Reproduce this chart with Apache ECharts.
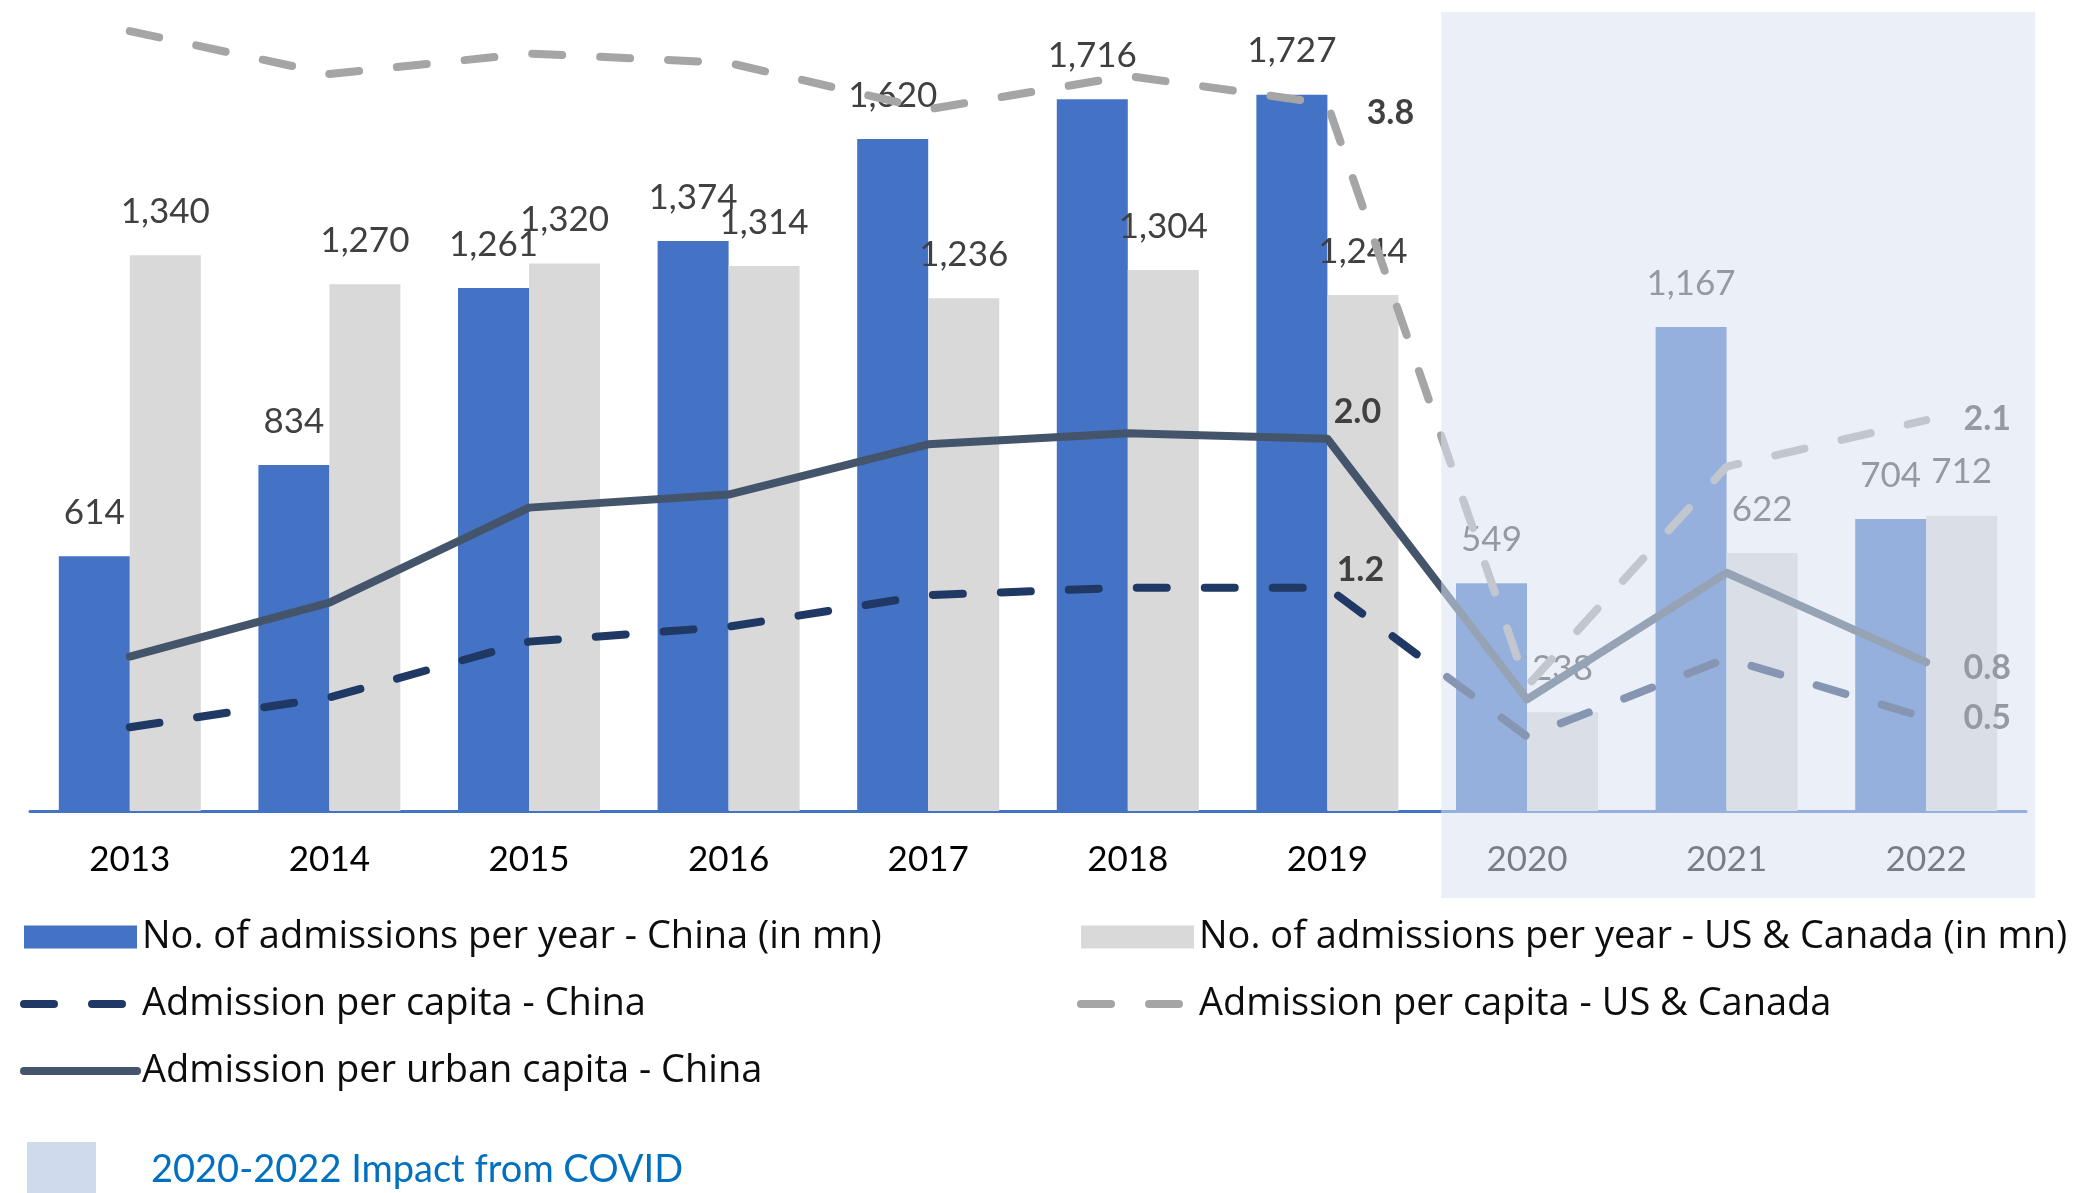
<!DOCTYPE html>
<html>
<head>
<meta charset="utf-8">
<script src="https://cdn.jsdelivr.net/npm/echarts@6/dist/echarts.min.js"></script>
<style>
  html, body { margin: 0; padding: 0; background: #ffffff; }
  #chart { width: 2074px; height: 1193px; }
</style>
</head>
<body>
<div id="chart"></div>
<script>
// Cinema admissions, China vs US & Canada
const years = ['2013', '2014', '2015', '2016', '2017', '2018', '2019', '2020', '2021', '2022'];
const chinaAdmissions = [614, 834, 1261, 1374, 1620, 1716, 1727, 549, 1167, 704];
const usCanadaAdmissions = [1340, 1270, 1320, 1314, 1236, 1304, 1244, 238, 622, 712];
const chinaPerCapita = [0.45, 0.61, 0.91, 0.99, 1.16, 1.2, 1.2, 0.40, 0.82, 0.5];
const chinaUrbanPerCapita = [0.83, 1.12, 1.63, 1.70, 1.97, 2.03, 2.0, 0.60, 1.28, 0.8];
const usCanadaPerCapita = [4.19, 3.96, 4.07, 4.02, 3.77, 3.95, 3.8, 0.67, 1.85, 2.1];

const seriesNames = {
  chinaBar: 'No. of admissions per year - China (in mn)',
  usBar: 'No. of admissions per year - US & Canada (in mn)',
  chinaPc: 'Admission per capita - China',
  usPc: 'Admission per capita - US & Canada',
  chinaUrban: 'Admission per urban capita - China'
};
const covidNote = '2020-2022 Impact from COVID';

const FONT = 'Lato, "Open Sans", sans-serif';
const LEGEND_FONT = '"Open Sans", Lato, sans-serif';
const LABEL_COLOR = '#404040';

// label placement (pixel offsets from the point) for the end-of-period values
function withLabels(values, offsets) {
  return values.map((v, i) => offsets[i]
    ? { value: v, label: { show: true, position: offsets[i] } }
    : v);
}

function barSeries(name, data, color) {
  return {
    name, type: 'bar', data, yAxisIndex: 0,
    barWidth: 71, barGap: '0%',
    itemStyle: { color },
    label: {
      show: true, position: 'top', distance: 26,
      color: LABEL_COLOR, fontFamily: FONT, fontSize: 35,
      formatter: p => p.value.toLocaleString('en-US')
    },
    silent: true
  };
}

function lineSeries(name, data, color, dash, z) {
  return {
    name, type: 'line', data, yAxisIndex: 1, z,
    symbol: 'circle', symbolSize: 0, showSymbol: true,
    lineStyle: { color, width: 8, type: dash, cap: 'round', join: 'round' },
    itemStyle: { color },
    label: {
      show: false, align: 'center', verticalAlign: 'middle',
      color: LABEL_COLOR, fontFamily: FONT, fontSize: 34, fontWeight: 'bold',
      formatter: p => Number(p.value).toFixed(1)
    },
    silent: true
  };
}

const legendBase = {
  orient: 'vertical', top: 918, padding: 0, selectedMode: false,
  itemWidth: 113, itemHeight: 23, itemGap: 29,
  lineStyle: { width: 'inherit' },
  textStyle: { fontFamily: LEGEND_FONT, fontSize: 38, lineHeight: 36, color: '#0d0d0d' }
};

const chart = echarts.init(document.getElementById('chart'));
chart.setOption({
  animation: false,
  backgroundColor: '#ffffff',
  grid: { left: 30, right: 48, top: 20, bottom: 382, containLabel: false },
  xAxis: {
    type: 'category', data: years,
    axisLine: { show: true, lineStyle: { color: '#4472C4', width: 3 } },
    axisTick: { show: false },
    axisLabel: { color: '#000000', fontFamily: FONT, fontSize: 35, margin: 31 }
  },
  yAxis: [
    { type: 'value', min: 0, max: 1907, show: false, splitLine: { show: false } },
    { type: 'value', min: 0, max: 4.25, show: false, splitLine: { show: false } }
  ],
  legend: [
    Object.assign({}, legendBase, {
      left: 20,
      data: [
        { name: seriesNames.chinaBar, icon: 'rect' },
        { name: seriesNames.chinaPc, itemStyle: { opacity: 0 } },
        { name: seriesNames.chinaUrban, itemStyle: { opacity: 0 } }
      ]
    }),
    Object.assign({}, legendBase, {
      left: 1077,
      data: [
        { name: seriesNames.usBar, icon: 'rect' },
        { name: seriesNames.usPc, itemStyle: { opacity: 0 } }
      ]
    })
  ],
  series: [
    barSeries(seriesNames.chinaBar, chinaAdmissions, '#4472C4'),
    barSeries(seriesNames.usBar, usCanadaAdmissions, '#D9D9D9'),
    lineSeries(seriesNames.usPc,
      withLabels(usCanadaPerCapita, { 6: [63, 9], 9: [61, -1] }),
      '#A5A5A5', [30, 38], 3),
    lineSeries(seriesNames.chinaPc,
      withLabels(chinaPerCapita, { 6: [33, -18], 9: [61, 0] }),
      '#203864', [30, 38], 4),
    lineSeries(seriesNames.chinaUrban,
      withLabels(chinaUrbanPerCapita, { 6: [30, -27], 9: [61, 6] }),
      '#44546A', 'solid', 5)
  ]
});

// COVID period shading laid over the last three years, plus its key
const px = v => chart.convertToPixel({ xAxisIndex: 0 }, v);
const band = px('2022') - px('2021');
const shadeLeft = px('2020') - band * 0.43;
const shadeRight = px('2022') + band * 0.546;
chart.setOption({
  graphic: [
    {
      type: 'rect', z: 100, silent: true,
      shape: { x: shadeLeft, y: 12, width: shadeRight - shadeLeft, height: 886 },
      style: { fill: 'rgba(218,227,243,0.55)' }
    },
    {
      type: 'rect', z: 100, silent: true,
      shape: { x: 27, y: 1142, width: 69, height: 51 },
      style: { fill: '#CFDAED' }
    },
    {
      type: 'text', z: 100, silent: true, x: 151, y: 1170,
      style: {
        text: covidNote, fill: '#0070C0',
        font: '38px ' + FONT, verticalAlign: 'middle', align: 'left'
      }
    }
  ]
});
</script>
</body>
</html>
